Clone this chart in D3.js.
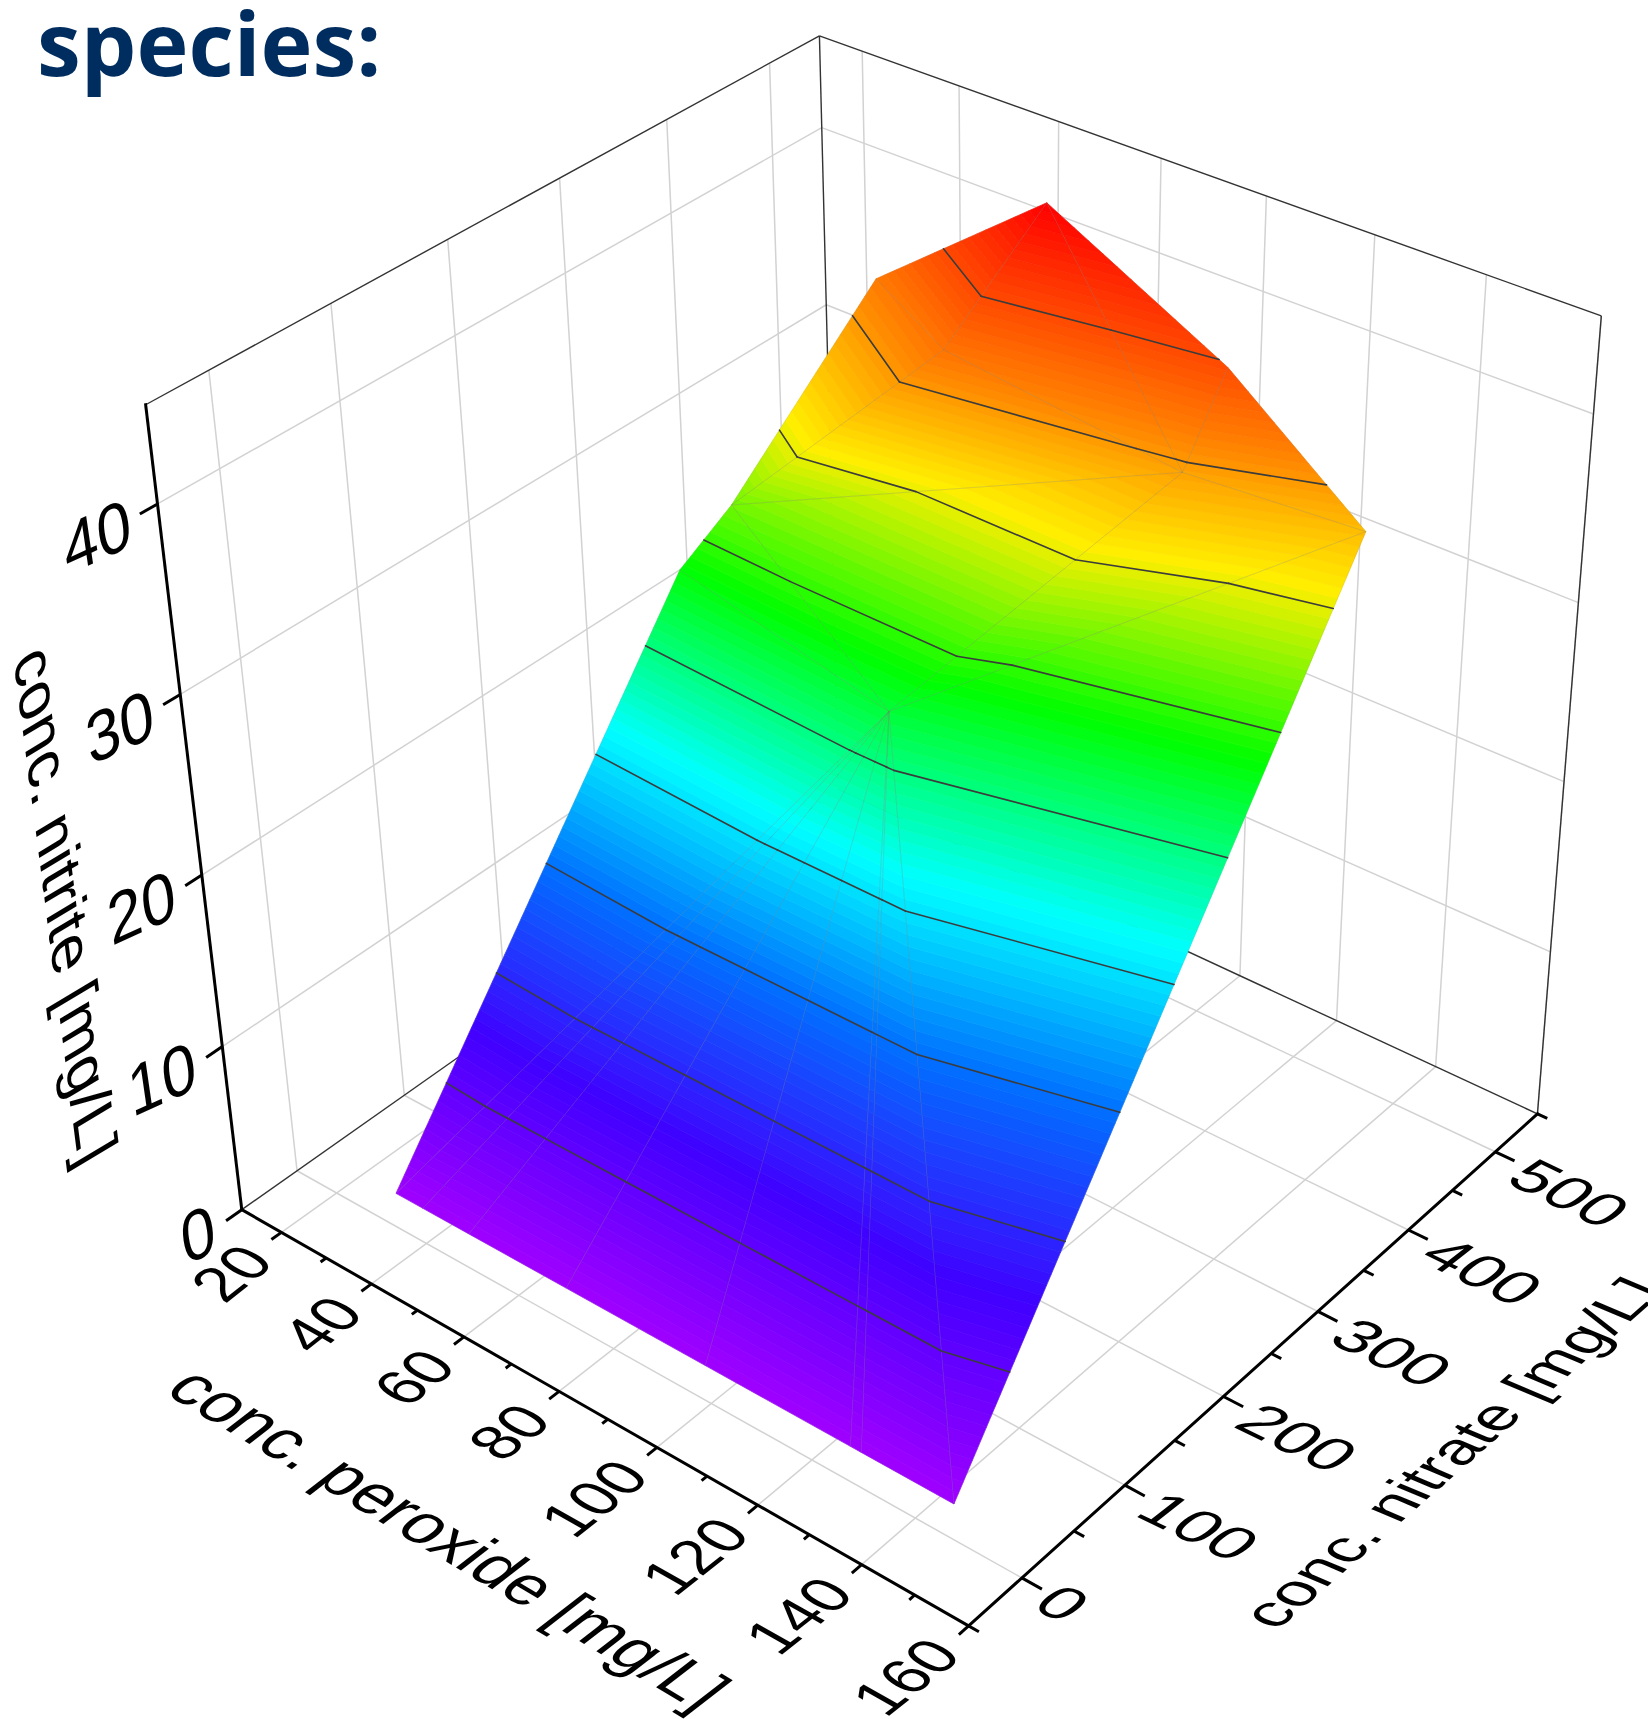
<!DOCTYPE html>
<html>
<head>
<meta charset="utf-8">
<style>body{margin:0;background:#fff}</style>
<script src="https://cdn.jsdelivr.net/npm/d3@7"></script>
</head>
<body>
<div id="chart"></div>
<script>
// axis values
const peroxideDomain = [11, 160];
const nitrateDomain = [-50, 550];
const nitriteDomain = [0, 45];
const peroxideTicks = [20, 40, 60, 80, 100, 120, 140, 160];
const peroxideMinor = [30, 50, 70, 90, 110, 130, 150];
const nitrateTicks = [0, 100, 200, 300, 400, 500];
const nitrateMinor = [-50, 50, 150, 250, 350, 450, 550];
const nitriteTicks = [0, 10, 20, 30, 40];

// surface mesh vertices
const vertexPeroxide = [33.5, 39.4, 49.4, 70.1, 98.7, 127.3, 129.4, 147.0, 76.7, 28.1, 31.0, 32.3, 63.6, 56.8, 101.7, 102.2, 130.4];
const vertexNitrate = [1.9, 1.9, 1.9, 1.9, 1.9, 1.9, 1.9, 1.9, 292.9, 318.5, 357.8, 500.9, 519.4, 448.7, 459.6, 502.0, 492.4];
const vertexNitrite = [2, 2, 2, 2, 2, 2, 2, 2, 23.7, 24.8, 27.4, 35.3, 42, 35.7, 33.6, 37.8, 32.5];
const triangles = [
    [8,0,1],[8,1,2],[8,2,3],[8,3,4],[8,4,5],[8,5,6],[8,6,7],
    [8,0,9],[8,9,10],[8,10,14],[10,13,14],[10,11,13],[11,12,13],[13,12,14],
    [12,15,14],[15,16,14],[14,16,8],[8,16,7]
];
const contourLevels = [6, 10, 14, 18, 22, 26, 30, 34, 38];

// colour map along nitrite
const colorStops = [2, 8, 14, 19, 25, 30.5, 35, 42];
const colorValues = ['#a000ff', '#4000ff', '#0070ff', '#00ffff', '#00ff00', '#ffee00', '#ff8000', '#ff0000'];
const bandStep = 1 / 3;

const width = 1648;
const height = 1719;
const sx = d3.scaleLinear().domain(peroxideDomain).range([0, 1]);
const sy = d3.scaleLinear().domain(nitrateDomain).range([0, 1]);
const sz = d3.scaleLinear().domain(nitriteDomain).range([0, 1]);
const color = d3.scaleLinear().domain(colorStops).range(colorValues).clamp(true);

// perspective camera, fitted to the axis ticks of the picture
const cam = [0.628496, 0.699469, -0.112271, 0.241780,
             0.251169, -0.323585, -0.849785, 1.209669,
             -0.101490, 0.122502, -0.110847];

function project(p, n, z) {
    const X = sx(p), Y = sy(n), Z = sz(z);
    const w = cam[8] * X + cam[9] * Y + cam[10] * Z + 1;
    return [
        1000 * (cam[0] * X + cam[1] * Y + cam[2] * Z + cam[3]) / w,
        1000 * (cam[4] * X + cam[5] * Y + cam[6] * Z + cam[7]) / w
    ];
}

const svg = d3.select('#chart').append('svg')
    .attr('width', width)
    .attr('height', height)
    .style('display', 'block');

const line3d = d3.line().x(d => d[0]).y(d => d[1]);
const seg = (a, b) => line3d([project(...a), project(...b)]);

const [pMin, pMax] = peroxideDomain;
const [nMin, nMax] = nitrateDomain;
const [zMin, zMax] = nitriteDomain;

// grid lines on the floor and the two walls
const gridLines = [];
peroxideTicks.forEach(p => {
    gridLines.push([[p, nMin, zMin], [p, nMax, zMin]]);
    gridLines.push([[p, nMax, zMin], [p, nMax, zMax]]);
});
nitrateTicks.forEach(n => {
    gridLines.push([[pMin, n, zMin], [pMax, n, zMin]]);
    gridLines.push([[pMin, n, zMin], [pMin, n, zMax]]);
});
nitriteTicks.slice(1).forEach(z => {
    gridLines.push([[pMin, nMin, z], [pMin, nMax, z]]);
    gridLines.push([[pMin, nMax, z], [pMax, nMax, z]]);
});
svg.append('g').selectAll('path').data(gridLines).join('path')
    .attr('d', d => seg(d[0], d[1]))
    .attr('fill', 'none')
    .attr('stroke', '#d2d2d2')
    .attr('stroke-width', 1.5);

// thin frame
const frameLines = [
    [[pMin, nMin, zMin], [pMin, nMax, zMin]],
    [[pMin, nMax, zMin], [pMax, nMax, zMin]],
    [[pMin, nMax, zMin], [pMin, nMax, zMax]],
    [[pMax, nMax, zMin], [pMax, nMax, zMax]],
    [[pMin, nMin, zMax], [pMin, nMax, zMax]],
    [[pMin, nMax, zMax], [pMax, nMax, zMax]]
];
svg.append('g').selectAll('path').data(frameLines).join('path')
    .attr('d', d => seg(d[0], d[1]))
    .attr('fill', 'none')
    .attr('stroke', '#333')
    .attr('stroke-width', 1.4);

// surface: clip every triangle to the colour bands
const vertices = vertexPeroxide.map((p, i) => [p, vertexNitrate[i], vertexNitrite[i]]);

function clipZ(poly, level, keepAbove) {
    const out = [];
    poly.forEach((a, i) => {
        const b = poly[(i + 1) % poly.length];
        const ain = keepAbove ? a[2] >= level : a[2] <= level;
        const bin = keepAbove ? b[2] >= level : b[2] <= level;
        if (ain) out.push(a);
        if (ain !== bin) {
            const t = (level - a[2]) / (b[2] - a[2]);
            out.push([a[0] + t * (b[0] - a[0]), a[1] + t * (b[1] - a[1]), level]);
        }
    });
    return out;
}

const bands = [];
triangles.forEach(tri => {
    const pts = tri.map(i => vertices[i]);
    for (let lo = 2; lo < 42; lo += bandStep) {
        const poly = clipZ(clipZ(pts, lo, true), lo + bandStep, false);
        if (poly.length > 2) bands.push({ poly: poly, z: lo + bandStep / 2 });
    }
});
svg.append('g').selectAll('path').data(bands).join('path')
    .attr('d', d => line3d(d.poly.map(q => project(...q))) + 'Z')
    .attr('fill', d => color(d.z))
    .attr('stroke', d => color(d.z))
    .attr('stroke-width', 0.7);

// faint mesh lines
const meshEdges = [];
triangles.forEach(tri => {
    tri.forEach((a, i) => {
        const b = tri[(i + 1) % 3];
        meshEdges.push([vertices[a], vertices[b]]);
    });
});
svg.append('g').selectAll('path').data(meshEdges).join('path')
    .attr('d', d => seg(d[0], d[1]))
    .attr('fill', 'none')
    .attr('stroke', '#808080')
    .attr('stroke-opacity', 0.14)
    .attr('stroke-width', 1);

// contour lines
const contourSegs = [];
triangles.forEach(tri => {
    const pts = tri.map(i => vertices[i]);
    contourLevels.forEach(level => {
        const hits = [];
        pts.forEach((a, i) => {
            const b = pts[(i + 1) % 3];
            if ((a[2] - level) * (b[2] - level) < 0) {
                const t = (level - a[2]) / (b[2] - a[2]);
                hits.push([a[0] + t * (b[0] - a[0]), a[1] + t * (b[1] - a[1]), level]);
            }
        });
        if (hits.length === 2) contourSegs.push(hits);
    });
});
svg.append('g').selectAll('path').data(contourSegs).join('path')
    .attr('d', d => seg(d[0], d[1]))
    .attr('fill', 'none')
    .attr('stroke', '#3c3c3c')
    .attr('stroke-width', 1.6)
    .attr('stroke-linecap', 'round');

// main axes
const axisLines = [
    [[pMin, nMin, zMin], [pMax, nMin, zMin]],
    [[pMax, nMin, zMin], [pMax, nMax, zMin]],
    [[pMin, nMin, zMin], [pMin, nMin, zMax]]
];
svg.append('g').selectAll('path').data(axisLines).join('path')
    .attr('d', d => seg(d[0], d[1]))
    .attr('fill', 'none')
    .attr('stroke', '#000')
    .attr('stroke-width', 3)
    .attr('stroke-linecap', 'square');

// ticks point out of the box
const tickLines = [];
peroxideTicks.forEach(p => tickLines.push([[p, nMin, zMin], [p, nMin - 9, zMin]]));
peroxideMinor.forEach(p => tickLines.push([[p, nMin, zMin], [p, nMin - 5, zMin]]));
nitrateTicks.forEach(n => tickLines.push([[pMax, n, zMin], [pMax + 3.7, n, zMin]]));
nitrateMinor.forEach(n => tickLines.push([[pMax, n, zMin], [pMax + 1.9, n, zMin]]));
nitriteTicks.forEach(z => tickLines.push([[pMin, nMin, z], [pMin, nMin - 14, z]]));
svg.append('g').selectAll('path').data(tickLines).join('path')
    .attr('d', d => seg(d[0], d[1]))
    .attr('fill', 'none')
    .attr('stroke', '#000')
    .attr('stroke-width', 3);

// labels lie in the planes of the box, so they get a skewed matrix (basis in px per em)
const labelFont = '"Liberation Sans", Arial, sans-serif';
const fontSize = 60;
const skew = (x, y, b) => `matrix(${b[0] / fontSize},${b[1] / fontSize},${b[2] / fontSize},${b[3] / fontSize},${x},${y})`;

function tickLabels(values, anchorOf, dx, dy, basis, anchor) {
    svg.append('g').selectAll('text').data(values).join('text')
        .attr('transform', d => {
            const q = anchorOf(d);
            return skew(q[0] + dx, q[1] + dy, basis);
        })
        .attr('text-anchor', anchor)
        .attr('dominant-baseline', 'central')
        .attr('font-family', labelFont)
        .attr('font-size', fontSize)
        .attr('fill', '#000')
        .text(d => d);
}
tickLabels(peroxideTicks, p => project(p, nMin, zMin), -24, 20, [47, -37, 55, 31], 'end');
tickLabels(nitrateTicks, n => project(pMax, n, zMin), 24, 17, [60, 29, -46, 36], 'start');
tickLabels(nitriteTicks, z => project(pMin, nMin, z), -27, 17, [60, -27, 10, 69], 'end');

// axis titles
const axisTitles = [
    { text: 'conc. peroxide [mg/L]', x: 449, y: 1538, basis: [56, 33.5, -53, 41] },
    { text: 'conc. nitrate [mg/L]', x: 1451, y: 1453, basis: [45.7, -40, 57, 24] },
    { text: 'conc. nitrite [mg/L]', x: 66, y: 904, basis: [8, 62.4, -55, 33] }
];
svg.append('g').selectAll('text').data(axisTitles).join('text')
    .attr('transform', d => skew(d.x, d.y, d.basis))
    .attr('text-anchor', 'middle')
    .attr('dominant-baseline', 'central')
    .attr('font-family', labelFont)
    .attr('font-size', fontSize)
    .attr('fill', '#000')
    .text(d => d.text);

// heading left over from the slide
svg.append('text')
    .attr('x', 37)
    .attr('y', 76)
    .attr('font-family', '"Open Sans", sans-serif')
    .attr('font-weight', 700)
    .attr('font-size', 88)
    .attr('fill', '#002d5f')
    .text('species:');
</script>
</body>
</html>
